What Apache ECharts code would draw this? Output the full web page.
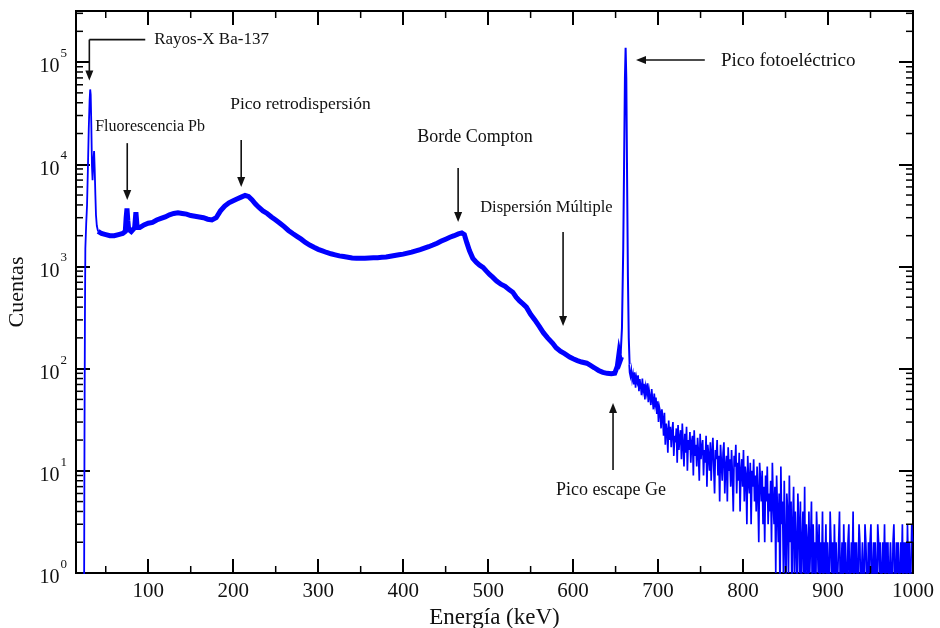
<!DOCTYPE html>
<html><head><meta charset="utf-8">
<script src="https://cdn.jsdelivr.net/npm/echarts@6/dist/echarts.min.js"></script>
<style>html,body{margin:0;padding:0;background:#fff}#c{width:940px;height:628px}</style>
</head><body><div id="c"></div>
<script>
// ---------- DATA (energy keV, counts) ----------
const xRayRegion = [[15,0],[24.5,0],[25,20],[25.5,300],[26,1500],[27,2600],[28,4000],[29,9000],[30,22000],[31,42000],[31.7,54000],[32.3,48000],[33,25000],[33.8,9500],[34.5,7000],[35.5,11000],[36.3,13500],[37,9000],[37.8,5000],[38.5,3200],[39.5,2500],[41,2200]];

const continuum = [[41,2200],[45,2100],[50,2050],[55,2000],[60,2000],[65,2050],[70,2100],[73,2200],[74,3000],[75,3700],[76,2800],[77,2300],[80,2200],[84,2400],[85.5,3400],[87,2400],[90,2400],[95,2550],[100,2650],[105,2700],[110,2850],[115,2950],[120,3050],[125,3200],[130,3300],[135,3350],[140,3300],[145,3250],[150,3150],[155,3100],[160,3050],[165,3000],[170,2900],[175,2850],[180,3000],[185,3500],[190,3900],[195,4200],[200,4400],[205,4600],[210,4800],[214,4950],[218,4850],[222,4500],[226,4100],[230,3800],[235,3500],[240,3300],[245,3050],[250,2850],[255,2650],[260,2450],[265,2250],[270,2100],[275,1970],[280,1850],[285,1720],[290,1620],[295,1540],[300,1470],[305,1420],[310,1370],[315,1330],[320,1300],[325,1270],[330,1250],[335,1230],[340,1210],[345,1200],[350,1200],[355,1200],[360,1210],[365,1215],[370,1220],[375,1230],[380,1240],[385,1260],[390,1280],[395,1300],[400,1320],[405,1350],[410,1380],[415,1420],[420,1460],[425,1510],[430,1560],[435,1620],[440,1690],[445,1770],[450,1850],[455,1930],[460,2000],[465,2080],[469,2130],[472,2050],[475,1700],[478,1430],[482,1200],[486,1100],[490,1030],[494,980],[498,900],[502,830],[505,790],[510,720],[515,670],[520,640],[525,590],[529,560],[533,500],[537,460],[541,430],[545,400],[550,340],[555,300],[560,260],[565,225],[570,200],[576,177],[580,160],[585,148],[590,140],[596,130],[600,125],[605,120],[610,116],[616,113],[620,108],[625,102],[630,96],[635,92],[640,90],[645,89],[649,90],[652,105],[654,140],[655.5,120],[657,130]];

const photopeak = [[656,140],[657.5,250],[659,1500],[660,10000],[661,70000],[661.8,138000],[662.6,70000],[663.5,8000],[664.5,800],[665.5,200],[666.5,110]];

// high-energy tail, one value per keV starting at 666 keV
const tailStartKeV = 666, tailStepKeV = 1;
const tailCounts = [
110,92,84,97,78,88,70,92,65,82,
74,86,60,79,68,55,80,62,71,50,
66,58,72,47,61,53,44,63,49,40,
57,45,52,36,48,30,42,38,26,40,
33,22,37,18,29,25,15,31,20,27,
17,24,30,14,22,19,26,12,28,16,
21,25,13,29,18,11,23,15,27,10,
20,16,24,12,19,22,9,25,14,18,
11,21,15,8,23,13,17,20,9,16,
12,22,7,18,14,10,19,8,15,21,
11,6,16,13,20,9,14,5,18,12,
8,15,19,6,11,14,5,17,10,13,
7,16,9,4,14,11,18,6,12,8,
15,4,10,13,7,16,5,11,9,3,
14,8,6,12,3,10,7,13,5,9,
4,11,6,2,12,8,5,10,3,7,
2,9,5,11,3,6,4,8,2,12,
5,3,7,1,9,4,2,6,0,11,
3,5,1,8,2,0,6,4,1,9,
2,5,0,3,7,1,4,2,0,6,
3,1,5,0,2,4,1,7,0,3,
2,0,4,1,2,5,0,3,1,2,
0,4,2,1,3,0,2,1,4,0,
2,1,3,0,2,1,0,4,2,1,
2,0,3,1,2,0,1,2,4,0,
1,2,0,3,1,2,1,0,2,3,
0,1,2,1,4,0,2,1,2,0,
1,3,2,0,1,2,1,0,3,2,
1,0,2,1,2,3,0,1,2,0,
2,1,0,3,2,1,2,0,1,2,
1,3,0,2,1,2,0,1,2,1,
0,2,3,1,0,2,1,2,0,1,
2,1,3,0,2,1,2,0,3,1,
2,0,1,3,2];

const xMajorTicks = [100,200,300,400,500,600,700,800,900,1000];
const xMinorTicks = [50,150,250,350,450,550,650,750,850,950];
const yMajorTicks = [1,10,100,1000,10000,100000];
const yMinorTicks = [2,3,4,5,6,7,8,9,20,30,40,50,60,70,80,90,200,300,400,500,600,700,800,900,
2000,3000,4000,5000,6000,7000,8000,9000,20000,30000,40000,50000,60000,70000,80000,90000,200000,300000];

const annotationLabels = [
  {text:'Rayos-X Ba-137', e:107, c:166000},
  {text:'Fluorescencia Pb', e:37.6, c:23100},
  {text:'Pico retrodispersión', e:196.5, c:38800},
  {text:'Borde Compton', e:416.5, c:18500},
  {text:'Dispersión Múltiple', e:490.6, c:3730},
  {text:'Pico fotoeléctrico', e:774, c:102000},
  {text:'Pico escape Ge', e:580, c:6.5}
];
// [e1, c1, e2, c2, arrowhead at end]
const annotationArrows = [
  [96.5,166000,30.7,166000,0],
  [30.7,166000,30.7,66000,1],
  [75.3,16100,75.3,4470,1],
  [209.4,17300,209.4,5980,1],
  [464.7,9180,464.7,2720,1],
  [588.2,2170,588.2,261,1],
  [755,105000,674,105000,1],
  [647,10.2,647,46,1]
];

// ---------- CHART ----------
const X_MIN = 15, X_MAX = 1000, Y_MIN = 1, Y_MAX = 316228;
const BELOW_AXIS = 0.5; // zero counts are drawn below the log axis (clipped)
const prep = arr => arr.map(p => [p[0], p[1] === 0 ? BELOW_AXIS : p[1]]);
const tailData = tailCounts.map((c, i) => [tailStartKeV + i * tailStepKeV, c === 0 ? BELOW_AXIS : c]);

const FONT = '"Liberation Serif", "Times New Roman", serif';
const labelSize = {
  'Rayos-X Ba-137':17, 'Fluorescencia Pb':16, 'Pico retrodispersión':17.5, 'Borde Compton':18,
  'Dispersión Múltiple':16.5, 'Pico fotoeléctrico':19, 'Pico escape Ge':18
};
const BLUE = '#0000ff';
const MAJOR = 14, MINOR = 7;

function lineSeries(data, w, step) {
  return {type:'line', data, showSymbol:false, symbol:'none', step: step || false,
    lineStyle:{color:BLUE, width:w, join:'miter'}, itemStyle:{color:BLUE}, clip:true, silent:true, z:3};
}

const tickRender = orient => (params, api) => {
  const style = {stroke:'#000', lineWidth:1.5};
  if (orient === 'x') {
    const v = api.value(0);
    const pb = api.coord([v, Y_MIN]), pt = api.coord([v, Y_MAX]);
    return {type:'group', children:[
      {type:'line', shape:{x1:pb[0], y1:pb[1], x2:pb[0], y2:pb[1]-MINOR}, style},
      {type:'line', shape:{x1:pt[0], y1:pt[1], x2:pt[0], y2:pt[1]+MINOR}, style}]};
  }
  const v = api.value(1);
  const pl = api.coord([X_MIN, v]), pr = api.coord([X_MAX, v]);
  return {type:'group', children:[
    {type:'line', shape:{x1:pl[0], y1:pl[1], x2:pl[0]+MINOR, y2:pl[1]}, style},
    {type:'line', shape:{x1:pr[0], y1:pr[1], x2:pr[0]-MINOR, y2:pr[1]}, style}]};
};

const arrowRender = (params, api) => {
  const a = annotationArrows[params.dataIndex];
  const p1 = api.coord([a[0], a[1]]), p2 = api.coord([a[2], a[3]]);
  const dx = p2[0]-p1[0], dy = p2[1]-p1[1], len = Math.hypot(dx, dy) || 1;
  const ux = dx/len, uy = dy/len, nx = -uy, ny = ux;
  const children = [];
  const L = 10, W = 4;
  const end = a[4] ? [p2[0]-ux*L*0.6, p2[1]-uy*L*0.6] : p2;
  children.push({type:'line', shape:{x1:p1[0], y1:p1[1], x2:end[0], y2:end[1]}, style:{stroke:'#111', lineWidth:1.6}});
  if (a[4]) {
    const bx = p2[0]-ux*L, by = p2[1]-uy*L;
    children.push({type:'polygon', shape:{points:[[p2[0],p2[1]],[bx+nx*W,by+ny*W],[bx-nx*W,by-ny*W]]}, style:{fill:'#111'}});
  }
  return {type:'group', children};
};

const textRender = (params, api) => {
  const t = annotationLabels[params.dataIndex];
  const p = api.coord([t.e, t.c]);
  return {type:'text', x:p[0], y:p[1], style:{text:t.text, fill:'#111',
    font: labelSize[t.text] + 'px ' + FONT, align:'left', verticalAlign:'middle'}};
};

const commonX = {type:'value', min:X_MIN, max:X_MAX, splitLine:{show:false},
  axisLine:{show:true, onZero:false, lineStyle:{color:'#000', width:2}}};
const commonY = {type:'log', logBase:10, min:Y_MIN, max:Y_MAX, splitLine:{show:false},
  axisLine:{show:true, onZero:false, lineStyle:{color:'#000', width:2}}};

const option = {
  animation:false,
  backgroundColor:'#fff',
  grid:{left:76, right:27, top:11, bottom:55, show:true, borderColor:'#000', borderWidth:2,
    containLabel:false, outerBoundsMode:'none'},
  xAxis:[
    Object.assign({}, commonX, {position:'bottom',
      name:'Energía (keV)', nameLocation:'middle', nameGap:26,
      nameTextStyle:{fontFamily:FONT, fontSize:23, color:'#111'},
      axisTick:{show:true, inside:true, length:MAJOR, customValues:xMajorTicks, lineStyle:{color:'#000', width:2}},
      axisLabel:{show:true, customValues:xMajorTicks, margin:8, fontFamily:FONT, fontSize:21, color:'#111',
        formatter: v => String(v)}}),
    Object.assign({}, commonX, {position:'top',
      axisTick:{show:true, inside:true, length:MAJOR, customValues:xMajorTicks, lineStyle:{color:'#000', width:2}},
      axisLabel:{show:false}})
  ],
  yAxis:[
    Object.assign({}, commonY, {position:'left',
      name:'Cuentas', nameLocation:'middle', nameGap:42, nameRotate:90,
      nameTextStyle:{fontFamily:FONT, fontSize:22, color:'#111'},
      axisTick:{show:true, inside:true, length:MAJOR, customValues:yMajorTicks, lineStyle:{color:'#000', width:2}},
      axisLabel:{show:true, customValues:yMajorTicks, margin:9,
        formatter: v => '{b|10}{s|' + Math.round(Math.log10(v)) + '}',
        rich:{b:{fontFamily:FONT, fontSize:20, color:'#111', padding:[10,0,0,0]},
              s:{fontFamily:FONT, fontSize:13, color:'#111', verticalAlign:'top', padding:[0,0,0,1]}}}}),
    Object.assign({}, commonY, {position:'right',
      axisTick:{show:true, inside:true, length:MAJOR, customValues:yMajorTicks, lineStyle:{color:'#000', width:2}},
      axisLabel:{show:false}})
  ],
  series:[
    lineSeries(prep(xRayRegion), 1.8),
    lineSeries(prep(continuum), 5),
    lineSeries(prep(photopeak), 2),
    lineSeries(tailData, 1.7, 'middle'),
    {type:'custom', renderItem:tickRender('x'), data:xMinorTicks.map(v => [v, Y_MIN]), encode:{x:0, y:1}, silent:true, clip:false, z:5},
    {type:'custom', renderItem:tickRender('y'), data:yMinorTicks.map(v => [X_MIN, v]), encode:{x:0, y:1}, silent:true, clip:false, z:5},
    {type:'custom', renderItem:arrowRender, data:annotationArrows.map(a => [a[0], a[1], a[2], a[3]]), encode:{x:[0,2], y:[1,3]}, silent:true, clip:false, z:6},
    {type:'custom', renderItem:textRender, data:annotationLabels.map(t => [t.e, t.c]), encode:{x:0, y:1}, silent:true, clip:false, z:6}
  ]
};
const chart = echarts.init(document.getElementById('c'), null, {renderer:'canvas'});
chart.setOption(option);
</script></body></html>
